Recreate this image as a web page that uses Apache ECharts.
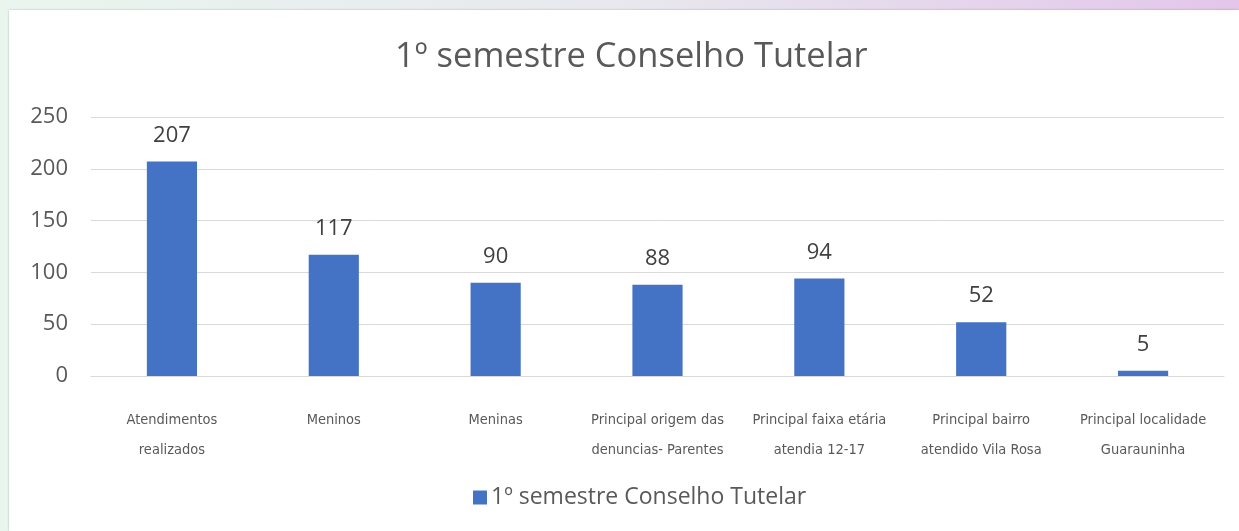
<!DOCTYPE html>
<html>
<head>
<meta charset="utf-8">
<script src="https://cdn.jsdelivr.net/npm/echarts@6/dist/echarts.min.js"></script>
<style>
  html, body { margin: 0; padding: 0; width: 1239px; height: 531px; overflow: hidden;
    background: linear-gradient(90deg, #e9f6ee 0%, #e8e8ee 50%, #e3c6ea 100%); }
  #frame { position: absolute; left: 9px; top: 10px; width: 1230px; height: 521px;
    background: #fff; box-shadow: 0 0 2px rgba(0,0,0,0.25); }
  #chart { width: 1230px; height: 521px; }
</style>
</head>
<body>
<div id="frame"><div id="chart"></div></div>
<script>
const title = '1º semestre Conselho Tutelar';
const seriesName = '1º semestre Conselho Tutelar';
const categories = [
  'Atendimentos\nrealizados',
  'Meninos',
  'Meninas',
  'Principal origem das\ndenuncias- Parentes',
  'Principal faixa etária\natendia 12-17',
  'Principal bairro\natendido Vila Rosa',
  'Principal localidade\nGuarauninha'
];
const values = [207, 117, 90, 88, 94, 52, 5];
const yTicks = { min: 0, max: 250, interval: 50 };

const chart = echarts.init(document.getElementById('chart'));
chart.setOption({
  animation: false,
  title: {
    text: title, left: 381, top: 25,
    textStyle: { fontFamily: 'Open Sans', fontSize: 34.5, fontWeight: 'normal', color: '#595959' }
  },
  legend: {
    top: 471, left: 459, itemWidth: 14, itemHeight: 14, itemGap: 6,
    icon: 'rect',
    textStyle: { fontFamily: 'Open Sans', fontSize: 23, color: '#595959', padding: [0, 0, 0, -1] },
    data: [seriesName]
  },
  grid: { left: 82, right: 15, top: 107, bottom: 155, containLabel: false },
  xAxis: {
    type: 'category', data: categories,
    axisLine: { lineStyle: { color: '#d9d9d9' } },
    axisTick: { show: false },
    axisLabel: {
      interval: 0, margin: 29, lineHeight: 30,
      fontFamily: 'Liberation Sans Narrow, DejaVu Sans Condensed, sans-serif',
      fontSize: 14.5, color: '#595959'
    }
  },
  yAxis: {
    type: 'value', min: yTicks.min, max: yTicks.max, interval: yTicks.interval,
    axisLine: { show: false }, axisTick: { show: false },
    splitLine: { lineStyle: { color: '#d9d9d9', width: 1 } },
    axisLabel: { margin: 23, fontFamily: 'Open Sans', fontSize: 22, color: '#595959' }
  },
  series: [{
    name: seriesName, type: 'bar', data: values, barWidth: '31%',
    itemStyle: { color: '#4472c4' },
    label: { show: true, position: 'top', distance: 15,
      fontFamily: 'Open Sans', fontSize: 22, color: '#404040' }
  }]
});
</script>
</body>
</html>
